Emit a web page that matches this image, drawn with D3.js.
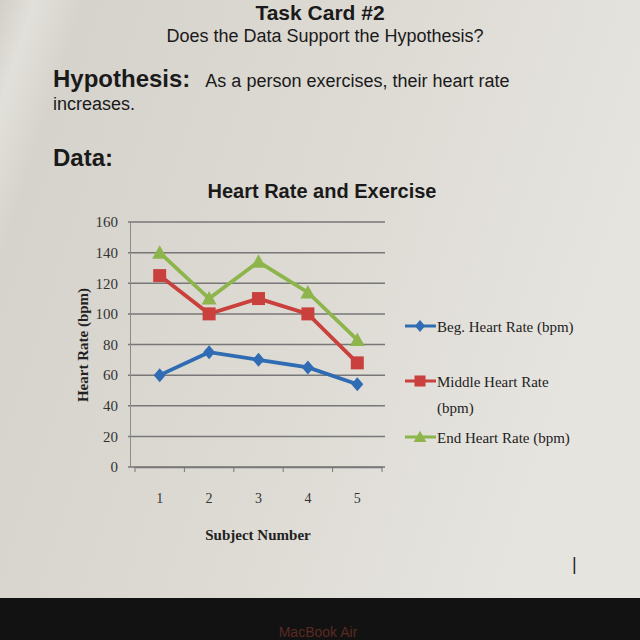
<!DOCTYPE html>
<html><head><meta charset="utf-8">
<script src="https://cdn.jsdelivr.net/npm/d3@7"></script>
<style>html,body{margin:0;padding:0;background:#111;}svg{display:block;}</style>
</head><body>
<script>
const subjects = ["1","2","3","4","5"];
const begRate = [60, 75, 70, 65, 54];
const middleRate = [125, 100, 110, 100, 68];
const endRate = [140, 110, 134, 114, 83];
const yTicks = [0,20,40,60,80,100,120,140,160];
const seriesNames = ["Beg. Heart Rate (bpm)", "Middle Heart Rate (bpm)", "End Heart Rate (bpm)"];

const W = 640, H = 640;
const svg = d3.select("body").append("svg").attr("width", W).attr("height", H);
const defs = svg.append("defs");
const g1 = defs.append("linearGradient").attr("id","paper").attr("x1","0").attr("x2","1").attr("y1","0").attr("y2","0.3");
g1.append("stop").attr("offset","0").attr("stop-color","#d2cfc8");
g1.append("stop").attr("offset","0.05").attr("stop-color","#e2e0da");
g1.append("stop").attr("offset","0.12").attr("stop-color","#d6d3cc");
g1.append("stop").attr("offset","0.6").attr("stop-color","#dedbd5");
g1.append("stop").attr("offset","1").attr("stop-color","#e6e4df");
svg.append("rect").attr("width", W).attr("height", 598).attr("fill","url(#paper)");
svg.append("rect").attr("y", 598).attr("width", W).attr("height", 42).attr("fill","#121212");
svg.append("text").attr("x", 318).attr("y", 637).attr("text-anchor","middle")
  .attr("font-family","Liberation Sans, Arial, sans-serif").attr("font-size",14).attr("fill","#5a2a22").text("MacBook Air");

const sans = "Liberation Sans, Arial, Helvetica, sans-serif";
const serif = "Liberation Serif, Times New Roman, serif";
// header
svg.append("text").attr("x", 320).attr("y", 20).attr("text-anchor","middle").attr("font-family",sans)
  .attr("font-weight","bold").attr("font-size",21).attr("fill","#1a1a1a").text("Task Card #2");
svg.append("text").attr("x", 325).attr("y", 42).attr("text-anchor","middle").attr("font-family",sans)
  .attr("font-size",18).attr("fill","#1a1a1a").text("Does the Data Support the Hypothesis?");
const hyp = svg.append("text").attr("x", 53).attr("y", 87).attr("font-family",sans).attr("fill","#1a1a1a");
hyp.append("tspan").attr("font-weight","bold").attr("font-size",24).text("Hypothesis:");
hyp.append("tspan").attr("font-size",18).attr("dx",15).text("As a person exercises, their heart rate");
svg.append("text").attr("x", 53).attr("y", 110).attr("font-family",sans).attr("font-size",18).attr("fill","#1a1a1a").text("increases.");
svg.append("text").attr("x", 53).attr("y", 166).attr("font-family",sans).attr("font-weight","bold").attr("font-size",24).attr("fill","#1a1a1a").text("Data:");
svg.append("text").attr("x", 572).attr("y", 570).attr("font-family",sans).attr("font-size",18).attr("fill","#222").text("|");

// chart
svg.append("text").attr("x", 322).attr("y", 198).attr("text-anchor","middle").attr("font-family",sans)
  .attr("font-weight","bold").attr("font-size",20).attr("fill","#1a1a1a").text("Heart Rate and Exercise");

const x = d3.scaleBand().domain(subjects).range([135, 382]);
const y = d3.scaleLinear().domain([0,160]).range([467, 222]);

const grid = svg.append("g");
grid.selectAll("line").data(yTicks).join("line")
  .attr("x1", 128).attr("x2", 385).attr("y1", d=>y(d)).attr("y2", d=>y(d))
  .attr("stroke","#777").attr("stroke-width",1.5);

const yAxis = svg.append("g").attr("transform","translate(130,0)")
  .call(d3.axisLeft(y).tickValues(yTicks).tickSize(0).tickPadding(12));
yAxis.select(".domain").attr("stroke","#8a8a8a");
yAxis.selectAll("text").attr("font-family",serif).attr("font-size",15).attr("fill","#333");

const xAxis = svg.append("g").attr("transform","translate(0,467)")
  .call(d3.axisBottom(x).tickSize(0).tickPadding(26));
xAxis.select(".domain").attr("stroke","#777").attr("stroke-width",1.5);
xAxis.selectAll("text").attr("font-family",serif).attr("font-size",14).attr("fill","#333");
const bounds = subjects.map(s=>x(s)).concat([x.range()[1]]);
svg.append("g").selectAll("line").data(bounds).join("line")
  .attr("x1", d=>d).attr("x2", d=>d).attr("y1", 467).attr("y2", 472).attr("stroke","#777");

svg.append("text").attr("transform","translate(88,345) rotate(-90)").attr("text-anchor","middle")
  .attr("font-family",serif).attr("font-weight","bold").attr("font-size",15).attr("fill","#222").text("Heart Rate (bpm)");
svg.append("text").attr("x", 258).attr("y", 540).attr("text-anchor","middle")
  .attr("font-family",serif).attr("font-weight","bold").attr("font-size",15).attr("fill","#222").text("Subject Number");

const series = [
  {name: seriesNames[0], values: begRate, color:"#2f6cb3", shape:"diamond"},
  {name: seriesNames[1], values: middleRate, color:"#c9403d", shape:"square"},
  {name: seriesNames[2], values: endRate, color:"#8db54b", shape:"triangle"}
];
const cx = i => x(subjects[i]) + x.bandwidth()/2;
const line = d3.line().x((d,i)=>cx(i)).y(d=>y(d));
function marker(sel, shape, color, px, py, s) {
  s = s || 1;
  let p;
  if (shape==="diamond") p = `M${px},${py-7*s}L${px+6*s},${py}L${px},${py+7*s}L${px-6*s},${py}Z`;
  else if (shape==="square") p = `M${px-6.5*s},${py-6.5*s}h${13*s}v${13*s}h${-13*s}Z`;
  else p = `M${px},${py-7.5*s}L${px+7.5*s},${py+6*s}L${px-7.5*s},${py+6*s}Z`;
  sel.append("path").attr("d", p).attr("fill", color);
}
series.forEach(s=>{
  const gs = svg.append("g");
  gs.append("path").datum(s.values).attr("d", line).attr("fill","none").attr("stroke", s.color).attr("stroke-width",3.8);
  s.values.forEach((v,i)=>marker(gs, s.shape, s.color, cx(i), y(v)));
});

// legend
const legY = [326, 381, 437];
series.forEach((s,i)=>{
  const ly = legY[i];
  svg.append("line").attr("x1", 405).attr("x2", 436).attr("y1", ly).attr("y2", ly).attr("stroke", s.color).attr("stroke-width",3);
  marker(svg, s.shape, s.color, 420, ly, 0.85);
});
const lt = (txt, yy) => svg.append("text").attr("x", 437).attr("y", yy).attr("font-family",serif)
  .attr("font-size",15).attr("fill","#222").text(txt);
lt("Beg. Heart Rate (bpm)", 332);
lt("Middle Heart Rate", 387);
lt("(bpm)", 413);
lt("End Heart Rate (bpm)", 443);
</script>
</body></html>
